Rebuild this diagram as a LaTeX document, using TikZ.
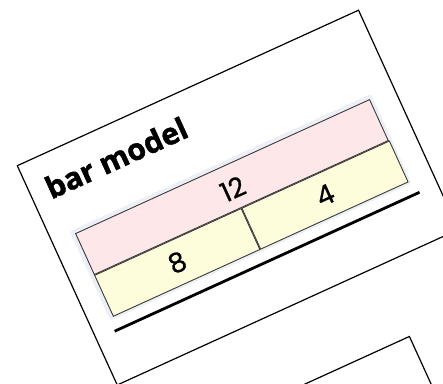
\documentclass[tikz,border=0pt]{standalone}
\usepackage{fontspec}
\setmainfont{Open Sans}[BoldFeatures={FakeBold=1.5}]
\newfontfamily\digitfont{Poppins}[FakeBold=0.6]
\definecolor{pinkbar}{HTML}{FDE7E9}
\definecolor{yellowbar}{HTML}{FDFDDC}
\definecolor{glowbar}{HTML}{ECEFF5}
\definecolor{edgebar}{HTML}{3A3A3A}
\tikzset{
  card/.style={draw=black, line width=1.2pt, fill=white},
  title/.style={font=\fontsize{30}{32}\selectfont\bfseries, inner sep=0pt},
  barpart/.style={draw=edgebar, line width=0.9pt, inner sep=0pt, minimum height=45pt, font=\digitfont\fontsize{27}{29}\selectfont},
  num/.style={font=\digitfont\fontsize{27}{29}\selectfont, inner sep=0pt},
  rule/.style={line width=2.8pt, line cap=butt}
}
\begin{document}
\begin{tikzpicture}[x=1pt,y=1pt]
    \useasboundingbox (0,0) rectangle (443,383);
    \clip (0,0) rectangle (443,383);
    \begin{scope}[shift={(17.3,217.3)},rotate=24.5,transform shape]
    % Cards:
    \draw [card] (0,0) rectangle (375,-241);
    \draw [card] (-120,-318) rectangle (286,-600);
    % Heading:
    \node [title,anchor=base west] (heading) at (17,-45) {bar model};
    % Bar model with its soft frame:
    \fill [glowbar,rounded corners=2pt] (20.5,-81.5) rectangle (351.5,-179.5);
    \node [barpart,fill=pinkbar,minimum width=323pt,anchor=north west] (whole) at (24.5,-85.5) {};
    \node [barpart,fill=yellowbar,minimum width=161pt,anchor=north west] (partA) at (whole.south west) {8};
    \node [barpart,fill=yellowbar,minimum width=162pt,anchor=north west] (partB) at (partA.north east) {4};
    \node [num] (total) at ([yshift=-2pt]whole.center) {12};
    % Rule under the bar:
    \draw [rule] (20,-191) -- (355,-191);
    \end{scope}
\end{tikzpicture}
\end{document}
